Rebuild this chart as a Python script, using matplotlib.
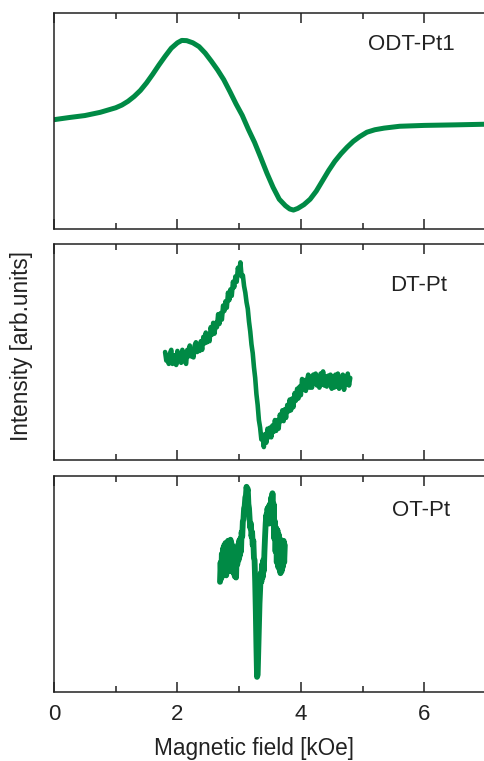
import matplotlib
matplotlib.use("Agg")
import matplotlib.pyplot as plt
from matplotlib.ticker import MultipleLocator

plt.rcParams['font.family'] = ['Liberation Sans', 'DejaVu Sans']

GREEN = '#008a45'
INK = '#222222'

# ODT-Pt1 spectrum: field (kOe) and derivative intensity (arb. units)
odt_field = [0.00, 0.25, 0.50, 0.75, 1.00, 1.10, 1.20, 1.30, 1.40, 1.50,
             1.60, 1.70, 1.80, 1.90, 2.00, 2.07, 2.15, 2.25, 2.35, 2.45,
             2.55, 2.65, 2.75, 2.85, 2.95, 3.05, 3.15, 3.25, 3.35, 3.45,
             3.55, 3.65, 3.75, 3.82, 3.88, 3.95, 4.05, 4.15, 4.25, 4.35,
             4.45, 4.55, 4.65, 4.75, 4.85, 4.95, 5.07, 5.20, 5.35, 5.60,
             6.00, 6.50, 7.00]
odt_signal = [0.010, 0.030, 0.048, 0.078, 0.120, 0.145, 0.180, 0.225, 0.280, 0.350,
              0.430, 0.515, 0.595, 0.670, 0.720, 0.742, 0.740, 0.720, 0.685, 0.625,
              0.550, 0.470, 0.380, 0.270, 0.155, 0.050, -0.080, -0.200, -0.340, -0.484,
              -0.615, -0.725, -0.785, -0.815, -0.825, -0.810, -0.775, -0.725, -0.650, -0.555,
              -0.460, -0.375, -0.305, -0.244, -0.190, -0.148, -0.106, -0.083, -0.068, -0.051,
              -0.043, -0.038, -0.032]

# DT-Pt spectrum
dt_field = [1.80, 1.82, 1.84, 1.86, 1.88, 1.90, 1.92, 1.94, 1.96, 1.98,
            2.00, 2.02, 2.04, 2.06, 2.08, 2.10, 2.12, 2.14, 2.16, 2.18,
            2.20, 2.22, 2.24, 2.26, 2.28, 2.30, 2.32, 2.34, 2.36, 2.38,
            2.40, 2.42, 2.44, 2.46, 2.48, 2.50, 2.52, 2.54, 2.56, 2.58,
            2.60, 2.62, 2.64, 2.66, 2.68, 2.70, 2.72, 2.74, 2.76, 2.78,
            2.80, 2.82, 2.84, 2.86, 2.88, 2.90, 2.92, 2.94, 2.96, 2.98,
            3.00, 3.02, 3.04, 3.06, 3.08, 3.10, 3.12, 3.14, 3.16, 3.18,
            3.20, 3.22, 3.24, 3.26, 3.28, 3.30, 3.32, 3.34, 3.36, 3.38,
            3.40, 3.42, 3.44, 3.46, 3.48, 3.50, 3.52, 3.54, 3.56, 3.58,
            3.60, 3.62, 3.64, 3.66, 3.68, 3.70, 3.72, 3.74, 3.76, 3.78,
            3.80, 3.82, 3.84, 3.86, 3.88, 3.90, 3.92, 3.94, 3.96, 3.98,
            4.00, 4.02, 4.04, 4.06, 4.08, 4.10, 4.12, 4.14, 4.16, 4.18,
            4.20, 4.22, 4.24, 4.26, 4.28, 4.30, 4.32, 4.34, 4.36, 4.38,
            4.40, 4.42, 4.44, 4.46, 4.48, 4.50, 4.52, 4.54, 4.56, 4.58,
            4.60, 4.62, 4.64, 4.66, 4.68, 4.70, 4.72, 4.74, 4.76, 4.78,
            4.80]
dt_signal = [0.00, -0.08, -0.03, -0.11, -0.01, 0.02, -0.11, -0.07, -0.03, -0.12,
             0.01, -0.07, -0.04, -0.10, 0.02, -0.02, -0.08, -0.11, 0.02, -0.04,
             0.06, -0.04, 0.00, -0.05, 0.06, 0.09, 0.00, 0.07, 0.01, 0.10,
             0.02, 0.14, 0.08, 0.18, 0.09, 0.16, 0.10, 0.23, 0.16, 0.27,
             0.17, 0.27, 0.23, 0.35, 0.26, 0.36, 0.30, 0.43, 0.38, 0.47,
             0.41, 0.55, 0.48, 0.58, 0.52, 0.65, 0.60, 0.70, 0.65, 0.78,
             0.72, 0.83, 0.70, 0.71, 0.61, 0.55, 0.46, 0.40, 0.28, 0.19,
             0.07, -0.01, -0.14, -0.24, -0.39, -0.49, -0.63, -0.70, -0.81, -0.77,
             -0.88, -0.76, -0.84, -0.71, -0.79, -0.70, -0.79, -0.68, -0.74, -0.63,
             -0.73, -0.63, -0.71, -0.58, -0.64, -0.54, -0.64, -0.53, -0.61, -0.49,
             -0.55, -0.44, -0.54, -0.43, -0.51, -0.38, -0.45, -0.34, -0.43, -0.32,
             -0.40, -0.25, -0.35, -0.26, -0.36, -0.26, -0.21, -0.33, -0.23, -0.33,
             -0.21, -0.29, -0.20, -0.31, -0.24, -0.33, -0.20, -0.30, -0.18, -0.31,
             -0.23, -0.32, -0.22, -0.29, -0.21, -0.34, -0.23, -0.33, -0.21, -0.32,
             -0.20, -0.34, -0.24, -0.32, -0.21, -0.35, -0.23, -0.30, -0.20, -0.31,
             -0.24]

# OT-Pt spectrum
ot_field = [2.69, 2.70, 2.71, 2.72, 2.73, 2.74, 2.75, 2.76, 2.77, 2.78,
            2.79, 2.80, 2.81, 2.82, 2.83, 2.84, 2.85, 2.86, 2.87, 2.88,
            2.89, 2.90, 2.91, 2.92, 2.93, 2.94, 2.95, 2.96, 2.97, 2.98,
            2.99, 3.00, 3.01, 3.02, 3.03, 3.04, 3.05, 3.06, 3.07, 3.08,
            3.09, 3.10, 3.11, 3.12, 3.13, 3.14, 3.15, 3.16, 3.17, 3.18,
            3.19, 3.20, 3.21, 3.22, 3.23, 3.24, 3.25, 3.26, 3.27, 3.28,
            3.29, 3.30, 3.31, 3.32, 3.33, 3.34, 3.35, 3.36, 3.37, 3.38,
            3.39, 3.40, 3.41, 3.42, 3.43, 3.44, 3.45, 3.46, 3.47, 3.48,
            3.49, 3.50, 3.51, 3.52, 3.53, 3.54, 3.55, 3.56, 3.57, 3.58,
            3.59, 3.60, 3.61, 3.62, 3.63, 3.64, 3.65, 3.66, 3.67, 3.68,
            3.69, 3.70, 3.71, 3.72, 3.73, 3.74]
ot_signal = [0.02, 0.20, 0.05, 0.28, 0.08, 0.33, 0.10, 0.36, 0.12, 0.38,
             0.08, 0.35, 0.12, 0.40, 0.14, 0.38, 0.12, 0.41, 0.16, 0.37,
             0.12, 0.34, 0.10, 0.32, 0.07, 0.24, 0.06, 0.28, 0.18, 0.36,
             0.22, 0.40, 0.26, 0.42, 0.30, 0.48, 0.44, 0.58, 0.60, 0.70,
             0.72, 0.80, 0.82, 0.90, 0.86, 0.88, 0.74, 0.70, 0.60, 0.52,
             0.56, 0.44, 0.48, 0.36, 0.40, 0.24, 0.22, 0.02, -0.25, -0.58,
             -0.86, -0.84, -0.62, -0.40, -0.18, -0.05, 0.10, 0.02, 0.18, 0.06,
             0.22, 0.12, 0.30, 0.44, 0.56, 0.64, 0.56, 0.70, 0.58, 0.72,
             0.56, 0.74, 0.60, 0.80, 0.64, 0.84, 0.58, 0.74, 0.42, 0.58,
             0.30, 0.52, 0.20, 0.50, 0.16, 0.46, 0.14, 0.42, 0.10, 0.40,
             0.12, 0.38, 0.16, 0.40, 0.20, 0.36]

panels = [
    ("ODT-Pt1", odt_field, odt_signal, 3.6, (5.09, 0.70)),
    ("DT-Pt", dt_field, dt_signal, 3.3, (5.45, 0.62)),
    ("OT-Pt", ot_field, ot_signal, 4.2, (5.48, 0.685)),
]

fig = plt.figure(figsize=(4.84, 7.61), dpi=100)
left = 54 / 484
width = (486 - 54) / 484
boxes = [(12.5, 229), (244, 460), (476, 692)]

for i, (name, xs, ys, lw, (tx, ty)) in enumerate(panels):
    top_px, bot_px = boxes[i]
    ax = fig.add_axes([left, 1 - bot_px / 761, width, (bot_px - top_px) / 761])
    ax.plot(xs, ys, color=GREEN, lw=lw, solid_joinstyle='round', solid_capstyle='round')
    ax.set_xlim(0, 7)
    ax.set_ylim(-1, 1)
    ax.xaxis.set_major_locator(MultipleLocator(2))
    ax.xaxis.set_minor_locator(MultipleLocator(1))
    ax.set_yticks([])
    ax.tick_params(axis='x', which='both', direction='in', top=True, bottom=True,
                   width=1.1, labelsize=16, pad=9, colors=INK)
    ax.tick_params(axis='x', which='major', length=7)
    ax.tick_params(axis='x', which='minor', length=4.3)
    if i < 2:
        ax.tick_params(axis='x', labelbottom=False)
    for sp in ax.spines.values():
        sp.set_linewidth(1.1)
        sp.set_color(INK)
    ax.text(tx, ty, name, fontsize=16, ha='left', va='center', color=INK)

fig.text(22 / 484, 1 - 346 / 761, "Intensity [arb.units]", rotation=90,
         ha='center', va='center', fontsize=16.3, color=INK)
fig.text(254 / 484, 1 - 749 / 761, "Magnetic field [kOe]",
         ha='center', va='center', fontsize=16.3, color=INK)

fig.savefig("out.png", dpi=100)
